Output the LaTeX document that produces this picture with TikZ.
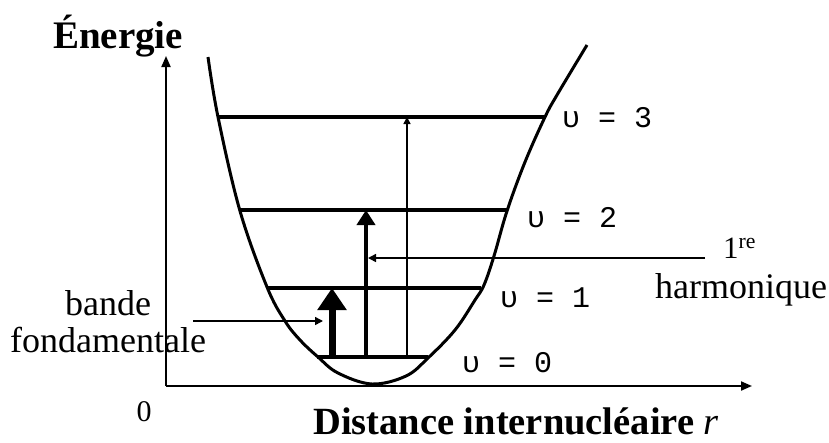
\documentclass[tikz,border=0pt]{standalone}
\usepackage{fontspec}
\setmainfont{Liberation Serif}
\setmonofont{Liberation Mono}
\usetikzlibrary{arrows.meta}
\tikzset{
  niveau/.style={line width=3.5pt},
  etiq/.style={font=\fontsize{36}{37}\selectfont, anchor=base, inner sep=0pt},
  vlab/.style={font=\ttfamily\fontsize{30}{30}\selectfont, anchor=west, inner sep=0pt},
  fine/.style={line width=1.5pt, -{Triangle[width=8pt,length=8pt]}},
}
\begin{document}
\begin{tikzpicture}[x=1pt,y=-1pt]
    \useasboundingbox (0,0) rectangle (829,442); % bounding box fix
    % axes
    \coordinate (O) at (166,386);
    \coordinate (ytop) at (166,56);
    \coordinate (xend) at (752,386);
    \draw[line width=2pt, -{Triangle[width=9pt,length=11pt]}] (O) -- (ytop);
    \draw[line width=2pt, -{Triangle[width=9pt,length=11pt]}] (O) -- (xend);
    \node[font=\bfseries\fontsize{39}{39}\selectfont, anchor=base, inner sep=0pt] (energie) at (118,48) {Énergie};
    \node[font=\bfseries\fontsize{38.5}{38.5}\selectfont, anchor=base west, inner sep=0pt] (distance) at (313,434) {Distance internucléaire {\mdseries\itshape r}};
    \node[font=\fontsize{30}{30}\selectfont, inner sep=0pt] (zero) at (144,412) {0};
    % puits de potentiel
    \draw[line width=3pt] plot[smooth, tension=0.6] coordinates {(208,57) (218,117) (240,211) (267,287) (285,321) (300,340) (318,357) (338,373) (372,384) (406,376) (428,358) (455,330) (475,300) (484,285) (494,256) (507,211) (525,162) (545,117) (557,95) (587,45)};
    % niveaux
    \coordinate (g3) at (218,117); \coordinate (d3) at (545,117);
    \coordinate (g2) at (240,210); \coordinate (d2) at (507,210);
    \coordinate (g1) at (267,288); \coordinate (d1) at (481,288);
    \coordinate (g0) at (317,357); \coordinate (d0) at (428,357);
    \draw[niveau] (g3) -- (d3);
    \draw[niveau] (g2) -- (d2);
    \draw[niveau] (g1) -- (d1);
    \draw[niveau] (g0) -- (d0);
    \node[vlab] (v3) at (562,118) {υ = 3};
    \node[vlab] (v2) at (527,218) {υ = 2};
    \node[vlab] (v1) at (500,298) {υ = 1};
    \node[vlab] (v0) at (462,363) {υ = 0};
    % transitions
    \coordinate (a0) at (332,357); \coordinate (a1) at (332,288);
    \coordinate (b0) at (366,357); \coordinate (b2) at (366,210);
    \coordinate (c0) at (407,357); \coordinate (c3) at (407,117);
    \draw[line width=7pt, -{Triangle[width=28pt,length=22pt]}] (a0) -- (a1);
    \draw[line width=4pt, -{Triangle[width=18pt,length=15pt]}] (b0) -- (b2);
    \draw[line width=1.5pt, -{Triangle[width=7pt,length=7pt]}] (c0) -- (c3);
    % legendes
    \node[etiq] (bande) at (108,315) {bande};
    \node[etiq] (fond) at (108,352) {fondamentale};
    \coordinate (fl) at (193,321);
    \draw[fine] (fl) -- (323,321);
    \node[font=\fontsize{31}{31}\selectfont, anchor=base west, inner sep=0pt] (prem) at (723,258) {1\textsuperscript{re}};
    \node[etiq, anchor=base west] (harm) at (655,298) {harmonique};
    \coordinate (hl) at (705,258);
    \draw[fine] (hl) -- (368,258);
\end{tikzpicture}
\end{document}
